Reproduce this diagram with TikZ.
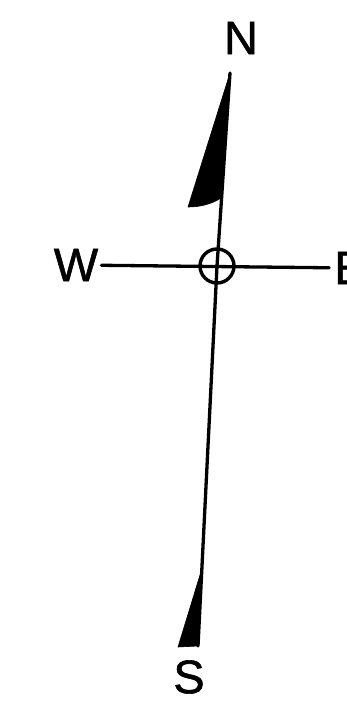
\documentclass[tikz,border=0pt]{standalone}
\usepackage{fontspec}
\setmainfont[FakeBold=1.2]{Liberation Sans}
\usetikzlibrary{positioning}

\begin{document}
\begin{tikzpicture}[x=1pt,y=-1pt,
  every node/.style={font=\fontsize{47}{47}\selectfont,inner sep=2pt},
  ln/.style={draw=black,line width=3.3pt,line cap=round},
  wedge/.style={fill=black,draw=black,line width=0.6pt,line join=round}]
\useasboundingbox (0,0) rectangle (347,702);
\node (n) at (241,38) {N};
\node (s) at (189,677) {S};
\node (w) at (76,265) {W};
\node (e) at (350,268) {E};
\node[draw=black,circle,line width=3.4pt,minimum size=34pt,inner sep=0pt] (c) at (217,266) {};
\coordinate (ntip) at (230,73);
\coordinate (stip) at (198,646);
\fill[wedge] (ntip) -- (188,207) .. controls (200,207) and (212,204) .. (221,198) -- cycle;
\fill[wedge] (200,575) -- (178,647) -- (198,646) -- cycle;
\draw[ln] (ntip) -- (c.center) -- (stip);
\draw[ln,shorten >=3pt,shorten <=1pt] (w) -- (e);
\end{tikzpicture}
\end{document}
